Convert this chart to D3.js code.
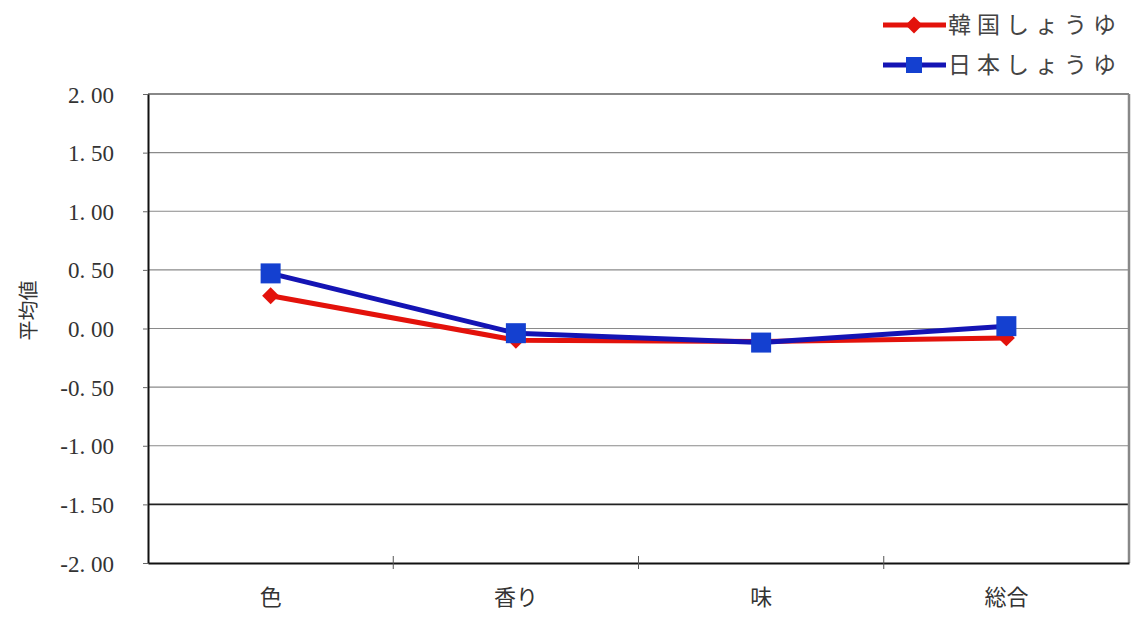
<!DOCTYPE html>
<html>
<head>
<meta charset="utf-8">
<script src="https://cdn.jsdelivr.net/npm/d3@7"></script>
<style>
  html, body { margin: 0; padding: 0; background: #fff; overflow: hidden; }
  svg { display: block; }
</style>
</head>
<body>
<script>
// Sensory evaluation: mean scores per attribute
const categories = ["色", "香り", "味", "総合"];
const koreanSoy = [0.28, -0.10, -0.11, -0.08];
const japaneseSoy = [0.47, -0.04, -0.12, 0.02];
const seriesNames = ["韓国しょうゆ", "日本しょうゆ"];
const yTicks = [2.0, 1.5, 1.0, 0.5, 0.0, -0.5, -1.0, -1.5, -2.0];

const W = 1135, H = 618;
const plot = { left: 148, right: 1129, top: 94, bottom: 563 };

const svg = d3.select("body").append("svg").attr("width", W).attr("height", H);

const x = d3.scaleBand().domain(categories).range([plot.left, plot.right]).padding(0);
const y = d3.scaleLinear().domain([-2, 2]).range([plot.bottom, plot.top]);

const serif = "'Liberation Serif', 'DejaVu Serif', serif";
const cjk = "'Noto Sans CJK JP', 'Noto Sans CJK SC', sans-serif";

// horizontal gridlines
svg.append("g").selectAll("line")
  .data(yTicks.filter(v => v > -2 && v < 2))
  .join("line")
  .attr("x1", plot.left).attr("x2", plot.right)
  .attr("y1", d => y(d)).attr("y2", d => y(d))
  .attr("stroke", d => d === -1.5 ? "#222" : "#8a8a8a")
  .attr("stroke-width", d => d === -1.5 ? 1.6 : 1.2);

// plot frame: top and right in grey
svg.append("line").attr("x1", plot.left).attr("x2", plot.right)
  .attr("y1", plot.top).attr("y2", plot.top)
  .attr("stroke", "#888").attr("stroke-width", 2);
svg.append("line").attr("x1", plot.right).attr("x2", plot.right)
  .attr("y1", plot.top).attr("y2", plot.bottom)
  .attr("stroke", "#888").attr("stroke-width", 2.5);

// y axis
const yAxis = d3.axisLeft(y).tickValues(yTicks).tickSize(5).tickSizeOuter(0)
  .tickFormat(d => d3.format(".2f")(d).replace("−", "-").replace(".", ". "));
const gy = svg.append("g").attr("transform", `translate(${plot.left},0)`).call(yAxis);
gy.select(".domain").attr("stroke", "#111").attr("stroke-width", 2);
gy.selectAll(".tick line").attr("stroke", "#666");
gy.selectAll(".tick text")
  .attr("x", -34)
  .attr("font-family", serif).attr("font-size", 23).attr("fill", "#333")
  .attr("dy", "0.35em");

// x axis with ticks at band boundaries
const xAxis = d3.axisBottom(x).tickSize(0).tickSizeOuter(0);
const gx = svg.append("g").attr("transform", `translate(0,${plot.bottom})`).call(xAxis);
gx.select(".domain").attr("stroke", "#111").attr("stroke-width", 2);
gx.selectAll(".tick text")
  .attr("y", 26)
  .attr("font-family", cjk).attr("font-size", 22).attr("fill", "#333");
svg.append("g").selectAll("line")
  .data(categories.slice(1))
  .join("line")
  .attr("x1", d => x(d)).attr("x2", d => x(d))
  .attr("y1", plot.bottom - 7).attr("y2", plot.bottom + 6)
  .attr("stroke", "#555").attr("stroke-width", 1);

// y axis title
svg.append("text")
  .attr("transform", `translate(36,${y(0) - 18}) rotate(-90)`)
  .attr("text-anchor", "middle")
  .attr("font-family", cjk).attr("font-size", 20).attr("fill", "#333")
  .text("平均値");

const cx = d => x(d) + x.bandwidth() / 2;
const line = d3.line().x(d => cx(d.cat)).y(d => y(d.v));

const red = "#e3120b", blue = "#1414b4", blueMark = "#1440d0";

function drawSeries(values, color, markColor, markerFn) {
  const pts = categories.map((c, i) => ({ cat: c, v: values[i] }));
  svg.append("path").datum(pts)
    .attr("d", line).attr("fill", "none")
    .attr("stroke", color).attr("stroke-width", 5)
    .attr("stroke-linejoin", "round");
  const g = svg.append("g");
  pts.forEach(p => markerFn(g, cx(p.cat), y(p.v), markColor));
}

const drawDiamond = (g, px, py, c) =>
  g.append("rect").attr("x", -6).attr("y", -6).attr("width", 12).attr("height", 12)
    .attr("transform", `translate(${px},${py}) rotate(45)`).attr("fill", c);
const drawSquare = (g, px, py, c) =>
  g.append("rect").attr("x", px - 10).attr("y", py - 10).attr("width", 20).attr("height", 20).attr("fill", c);

drawSeries(koreanSoy, red, red, drawDiamond);
drawSeries(japaneseSoy, blue, blueMark, drawSquare);

// legend
const legend = svg.append("g");
const legendRows = [
  { name: seriesNames[0], color: red, mark: red, fn: drawDiamond, yy: 25 },
  { name: seriesNames[1], color: blue, mark: blueMark, fn: (g, px, py, c) =>
      g.append("rect").attr("x", px - 8).attr("y", py - 8).attr("width", 16).attr("height", 16).attr("fill", c), yy: 65 }
];
legendRows.forEach(r => {
  legend.append("line").attr("x1", 883).attr("x2", 946)
    .attr("y1", r.yy).attr("y2", r.yy)
    .attr("stroke", r.color).attr("stroke-width", 5);
  r.fn(legend, 914, r.yy, r.mark);
  legend.append("text").attr("x", 948).attr("y", r.yy).attr("dy", "0.36em")
    .attr("font-family", cjk).attr("font-size", 23).attr("fill", "#444")
    .attr("letter-spacing", 6)
    .text(r.name);
});
</script>
</body>
</html>
